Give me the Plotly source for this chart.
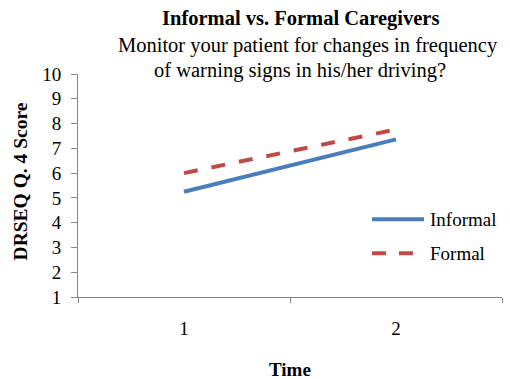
import plotly.graph_objects as go

# Survey data: mean DRSEQ Q.4 score at each time point
times = ["1", "2"]
informal = [5.25, 7.36]
formal = [6.0, 7.76]
series_names = ["Informal", "Formal"]
y_ticks = list(range(1, 11))

W, H = 510, 379
L, R, T, B = 78, 8, 73.5, 82.3
plot_w = W - L - R
plot_h = H - T - B

def px(x):
    return (x - L) / plot_w

def py(y):
    return (H - B - y) / plot_h

FONT = "Liberation Serif, Times New Roman, serif"
BLUE = "#4A7EBB"
RED = "#BE4B48"

fig = go.Figure()
fig.add_trace(go.Scatter(x=times, y=informal, mode="lines", name=series_names[0],
                         line=dict(color=BLUE, width=4), showlegend=False))
fig.add_trace(go.Scatter(x=times, y=formal, mode="lines", name=series_names[1],
                         line=dict(color=RED, width=4, dash="14px,14px"), showlegend=False))

# Legend drawn as shapes and labels on the right side of the plot
legend_rows = [(series_names[0], BLUE, "solid", 219), (series_names[1], RED, "14px,13px", 253)]
shapes = []
annotations = []
for name, color, dash, yy in legend_rows:
    shapes.append(dict(type="line", xref="paper", yref="paper",
                       x0=px(372), x1=px(424), y0=py(yy), y1=py(yy),
                       line=dict(color=color, width=4, dash=dash)))
    annotations.append(dict(text=name, xref="paper", yref="paper", x=px(428), y=py(yy),
                            xanchor="left", yanchor="middle", showarrow=False,
                            font=dict(family=FONT, size=19, color="#000")))

# Titles
annotations += [
    dict(text="<b>Informal vs. Formal Caregivers</b>", x=px(300), y=py(18),
         font=dict(family=FONT, size=20.5, color="#000")),
    dict(text="Monitor your patient for changes in frequency", x=px(308), y=py(45),
         font=dict(family=FONT, size=20.5, color="#000")),
    dict(text="of warning signs in his/her driving?", x=px(300), y=py(70),
         font=dict(family=FONT, size=20.5, color="#000")),
    dict(text="<b>Time</b>", x=px(290), y=py(369),
         font=dict(family=FONT, size=19, color="#000")),
    dict(text="<b>DRSEQ Q. 4 Score</b>", x=px(20), y=py(181), textangle=-90,
         font=dict(family=FONT, size=19.5, color="#000")),
]
for a in annotations[2:]:
    a.setdefault("xref", "paper")
    a.setdefault("yref", "paper")
    a.setdefault("showarrow", False)
    a.setdefault("xanchor", "center")
    a.setdefault("yanchor", "middle")

fig.update_layout(
    width=W, height=H,
    margin=dict(l=L, r=R, t=T, b=B, pad=0),
    paper_bgcolor="white", plot_bgcolor="white",
    font=dict(family=FONT, size=19, color="#000"),
    shapes=shapes, annotations=annotations,
    xaxis=dict(type="category", range=[-0.5, 1.5], showgrid=False, zeroline=False,
               showline=True, linecolor="#868686", linewidth=1,
               ticks="outside", tickson="boundaries", ticklen=5, tickcolor="#868686",
               ticklabelstandoff=14, tickfont=dict(family=FONT, size=19)),
    yaxis=dict(range=[1, 10], tickvals=y_ticks, showgrid=False, zeroline=False,
               showline=True, linecolor="#868686", linewidth=1,
               ticks="outside", ticklen=6, tickcolor="#868686",
               ticklabelstandoff=6, tickfont=dict(family=FONT, size=19)),
)

fig.write_html("out.html")
